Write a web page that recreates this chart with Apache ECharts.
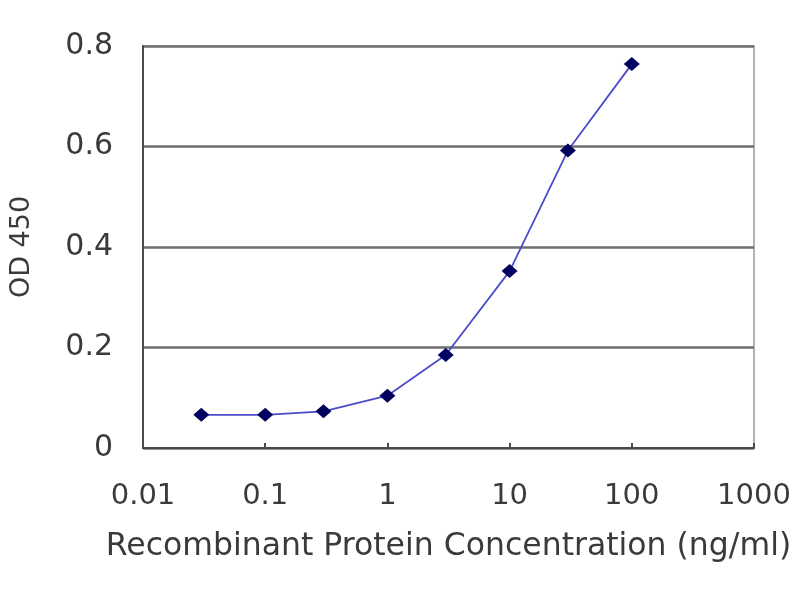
<!DOCTYPE html>
<html>
<head>
<meta charset="utf-8">
<script src="https://cdn.jsdelivr.net/npm/echarts@6/dist/echarts.min.js"></script>
<style>html,body{margin:0;padding:0;background:#fff}#c{width:800px;height:600px}</style>
</head>
<body>
<div id="c"></div>
<script>
var concentrations = [0.03, 0.1, 0.3, 1, 3, 10, 30, 100];
var od450 = [0.066, 0.066, 0.073, 0.104, 0.185, 0.352, 0.592, 0.764];
var xTickLabels = ['0.01', '0.1', '1', '10', '100', '1000'];
var yTickLabels = ['0', '0.2', '0.4', '0.6', '0.8'];

var chart = echarts.init(document.getElementById('c'));
var font = 'DejaVu Sans';
var txt = '#3a3a3a';
chart.setOption({
  animation: false,
  grid: {left: 140, right: 46, top: 46, bottom: 152, show: true, borderColor: '#9a9a9a', borderWidth: 1.5},
  xAxis: {
    type: 'log', logBase: 10, min: 0.01, max: 1000,
    name: 'Recombinant Protein Concentration (ng/ml)',
    nameLocation: 'middle', nameGap: 83,
    nameTextStyle: {fontFamily: font, fontSize: 31.5, color: txt},
    axisLine: {show: true, lineStyle: {color: '#4a4a4a', width: 2}},
    axisTick: {show: true, inside: true, length: 5, lineStyle: {color: '#4a4a4a', width: 2}},
    minorTick: {show: false},
    splitLine: {show: false},
    axisLabel: {
      fontFamily: font, fontSize: 29, color: txt, margin: 34,
      formatter: function (v) {
        var i = Math.round(Math.log10(v) + 2);
        return xTickLabels[i] !== undefined ? xTickLabels[i] : '';
      }
    }
  },
  yAxis: {
    type: 'value', min: 0, max: 0.8, interval: 0.2,
    name: 'OD 450', nameLocation: 'middle', nameGap: 108,
    nameTextStyle: {fontFamily: font, fontSize: 27, color: txt},
    axisLine: {show: true, lineStyle: {color: '#4a4a4a', width: 2}},
    axisTick: {show: false},
    splitLine: {show: true, lineStyle: {color: '#6e6e6e', width: 2.5}},
    axisLabel: {
      fontFamily: font, fontSize: 30, color: txt, margin: 30,
      formatter: function (v) {
        var i = Math.round(v / 0.2);
        return yTickLabels[i] !== undefined ? yTickLabels[i] : '';
      }
    }
  },
  series: [{
    type: 'line',
    data: concentrations.map(function (c, i) { return [c, od450[i]]; }),
    symbol: 'diamond', symbolSize: [16, 14],
    lineStyle: {color: '#4c4cc8', width: 1.8},
    itemStyle: {color: '#00005e', borderWidth: 0}
  }]
});
</script>
</body>
</html>
